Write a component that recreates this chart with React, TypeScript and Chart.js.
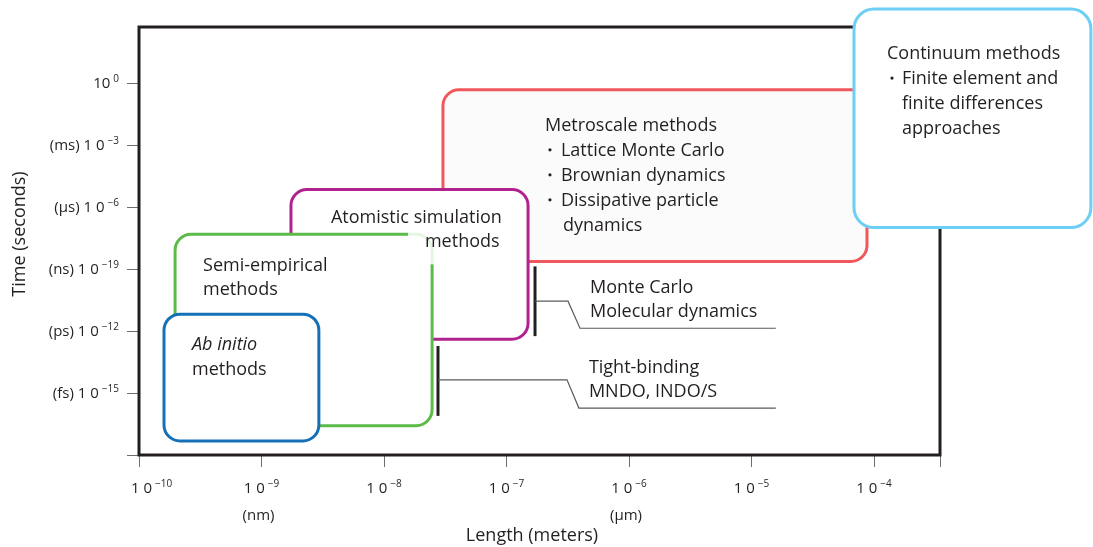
import React, { useEffect, useRef } from "react";
import { Chart, registerables } from "chart.js";

Chart.register(...registerables);

// ---- Axis ticks ----
const X_TICK_VALUES = [1e-10, 1e-9, 1e-8, 1e-7, 1e-6, 1e-5, 1e-4];
const X_TICK_SUP = ["−10", "−9", "−8", "−7", "−6", "−5", "−4"];
const X_TICK_UNITS = ["", "(nm)", "", "", "(μm)", "", ""];
const Y_TICK_VALUES = [1, 1e-3, 1e-6, 1e-9, 1e-12, 1e-15];
const Y_TICK_BASE = ["10", "(ms) 1 0", "(μs) 1 0", "(ns) 1 0", "(ps) 1 0", "(fs) 1 0"];
const Y_TICK_SUP = ["0", "−3", "−6", "−19", "−12", "−15"];
const X_MIN = 1e-10;
const X_MAX = 3.46e-4;
const Y_MIN = 1e-18;
const Y_MAX = 501;

// ---- Method regions (length in m, time in s) ----
const BOX_NAMES = ["Metroscale", "Atomistic", "Semi-empirical", "Ab initio", "Continuum"];
const BOX_X_MIN = [3.03e-8, 1.74e-9, 1.97e-10, 1.6e-10, 6.87e-5];
const BOX_X_MAX = [8.77e-5, 1.5e-7, 2.47e-8, 2.94e-9, 5.9e-3];
const BOX_T_MIN = [2.3e-9, 4.0e-13, 2.6e-17, 4.8e-18, 1.0e-7];
const BOX_T_MAX = [0.46, 6.9e-6, 4.7e-8, 6.5e-12, 3700];
const BOX_COLORS = ["#f0585c", "#b0238f", "#5cbb48", "#1670b8", "#6dcff6"];
const BOX_FILLS = ["#fbfbfb", "#ffffff", "#ffffff", "#ffffff", "#ffffff"];

// ---- Bracket markers (Monte Carlo/MD, Tight-binding) ----
const BAR_X = [1.71e-7, 2.76e-8];
const BAR_T_TOP = [1.32e-9, 1.86e-13];
const BAR_T_BOTTOM = [5.6e-13, 7.8e-17];
const LINK_T = [2.75e-11, 4.3e-15];
const LINK_BEND_X = [3.18e-7, 3.12e-7];
const LINK_END_T = [1.35e-12, 1.86e-16];
const LINK_DIAG_X = [3.98e-7, 3.9e-7];
const LINK_END_X = [1.58e-5, 1.58e-5];
const LINK_LABELS = [
  ["Monte Carlo", "Molecular dynamics"],
  ["Tight-binding", "MNDO, INDO/S"],
];

const FONT = '"Open Sans", "Noto Sans", sans-serif';
const TEXT = "#231f20";

function rr(ctx: CanvasRenderingContext2D, x1: number, y1: number, x2: number, y2: number, r: number) {
  ctx.beginPath();
  ctx.moveTo(x1 + r, y1);
  ctx.lineTo(x2 - r, y1);
  ctx.arcTo(x2, y1, x2, y1 + r, r);
  ctx.lineTo(x2, y2 - r);
  ctx.arcTo(x2, y2, x2 - r, y2, r);
  ctx.lineTo(x1 + r, y2);
  ctx.arcTo(x1, y2, x1, y2 - r, r);
  ctx.lineTo(x1, y1 + r);
  ctx.arcTo(x1, y1, x1 + r, y1, r);
  ctx.closePath();
}

const drawPlugin = {
  id: "multiscale",
  afterDraw(chart: any) {
    const ctx: CanvasRenderingContext2D = chart.ctx;
    const xs = chart.scales.x;
    const ys = chart.scales.y;
    const X = (v: number) => xs.getPixelForValue(v);
    const Y = (v: number) => ys.getPixelForValue(v);
    const L = X(X_MIN), R = X(X_MAX), T = Y(Y_MAX), B = Y(Y_MIN);
    ctx.save();
    ctx.textBaseline = "alphabetic";

    // ticks
    ctx.strokeStyle = "#6d6e71";
    ctx.lineWidth = 1;
    [...Y_TICK_VALUES, Y_MIN].forEach((v) => {
      const y = Math.round(Y(v)) + 0.5;
      ctx.beginPath(); ctx.moveTo(L - 12, y); ctx.lineTo(L, y); ctx.stroke();
    });
    [...X_TICK_VALUES, X_MAX].forEach((v) => {
      const x = Math.round(X(v)) + 0.5;
      ctx.beginPath(); ctx.moveTo(x, B); ctx.lineTo(x, B + 12); ctx.stroke();
    });

    // frame
    ctx.strokeStyle = TEXT;
    ctx.lineWidth = 3;
    ctx.beginPath();
    ctx.moveTo(R, T); ctx.lineTo(L, T); ctx.lineTo(L, B); ctx.lineTo(R, B); ctx.closePath();
    ctx.stroke();

    // y tick labels
    ctx.fillStyle = TEXT;
    Y_TICK_VALUES.forEach((v, i) => {
      ctx.font = `15px ${FONT}`;
      const wMain = ctx.measureText(Y_TICK_BASE[i]).width;
      ctx.font = `10px ${FONT}`;
      const wSup = ctx.measureText(Y_TICK_SUP[i]).width;
      const end = L - 20;
      const y = Y(v) + 5;
      const start = end - wSup - 3 - wMain;
      ctx.font = `15px ${FONT}`;
      ctx.textAlign = "left";
      ctx.fillText(Y_TICK_BASE[i], start, y);
      ctx.font = `10px ${FONT}`;
      ctx.fillText(Y_TICK_SUP[i], start + wMain + 3, y - 6);
    });

    // x tick labels
    X_TICK_VALUES.forEach((v, i) => {
      ctx.font = `15px ${FONT}`;
      const wMain = ctx.measureText("1 0").width;
      ctx.font = `10px ${FONT}`;
      const wSup = ctx.measureText(X_TICK_SUP[i]).width;
      const total = wMain + 3 + wSup;
      let start = X(v) - total / 2;
      if (i === 0) start = X(v) - 8;
      const y = B + 38;
      ctx.textAlign = "left";
      ctx.font = `15px ${FONT}`;
      ctx.fillText("1 0", start, y);
      ctx.font = `10px ${FONT}`;
      ctx.fillText(X_TICK_SUP[i], start + wMain + 3, y - 6);
      if (X_TICK_UNITS[i]) {
        ctx.font = `15px ${FONT}`;
        ctx.textAlign = "center";
        ctx.fillText(X_TICK_UNITS[i], X(v) - 3, B + 65);
      }
    });

    // axis titles
    ctx.font = `18px ${FONT}`;
    ctx.textAlign = "center";
    ctx.fillText("Length (meters)", 532, B + 86);
    ctx.save();
    ctx.translate(25, 234);
    ctx.rotate(-Math.PI / 2);
    ctx.fillText("Time (seconds)", 0, 0);
    ctx.restore();

    const box = (i: number, r: number) => {
      const x1 = X(BOX_X_MIN[i]), x2 = X(BOX_X_MAX[i]);
      const y1 = Y(BOX_T_MAX[i]), y2 = Y(BOX_T_MIN[i]);
      rr(ctx, x1, y1, x2, y2, r);
      ctx.fillStyle = BOX_FILLS[i];
      ctx.fill();
      ctx.strokeStyle = BOX_COLORS[i];
      ctx.lineWidth = 3;
      ctx.stroke();
      return { x1, y1, x2, y2 };
    };
    const txt = (s: string, x: number, y: number, italic = false) => {
      ctx.font = `${italic ? "italic " : ""}18px ${FONT}`;
      ctx.fillStyle = TEXT;
      ctx.textAlign = "left";
      ctx.fillText(s, x, y);
    };
    const bullet = (x: number, y: number) => {
      ctx.beginPath();
      ctx.arc(x, y - 6, 1.6, 0, Math.PI * 2);
      ctx.fillStyle = TEXT;
      ctx.fill();
    };

    // Metroscale
    const m = box(0, 16);
    txt("Metroscale methods", m.x1 + 102, m.y1 + 41);
    ["Lattice Monte Carlo", "Brownian dynamics", "Dissipative particle"].forEach((s, k) => {
      bullet(m.x1 + 107, m.y1 + 66 + 25 * k);
      txt(s, m.x1 + 118, m.y1 + 66 + 25 * k);
    });
    txt("dynamics", m.x1 + 120, m.y1 + 141);

    // Atomistic
    const a = box(1, 16);
    txt("Atomistic simulation", a.x1 + 40, a.y1 + 33);

    // Semi-empirical
    const s = box(2, 16);
    ctx.fillStyle = "rgba(255,255,255,0.85)";
    ctx.fillRect(s.x2 - 24, s.y1 - 3, 30, 33);
    txt("methods", a.x1 + 134, a.y1 + 57);
    txt("Semi-empirical", s.x1 + 28, s.y1 + 37);
    txt("methods", s.x1 + 28, s.y1 + 61);

    // Ab initio
    const b = box(3, 16);
    txt("Ab initio", b.x1 + 28, b.y1 + 36, true);
    txt("methods", b.x1 + 28, b.y1 + 61);

    // brackets
    BAR_X.forEach((bx, i) => {
      const x = X(bx);
      ctx.strokeStyle = TEXT;
      ctx.lineWidth = 3;
      ctx.beginPath(); ctx.moveTo(x, Y(BAR_T_TOP[i])); ctx.lineTo(x, Y(BAR_T_BOTTOM[i])); ctx.stroke();
      ctx.strokeStyle = "#58595b";
      ctx.lineWidth = 1.2;
      ctx.beginPath();
      ctx.moveTo(x, Y(LINK_T[i]));
      ctx.lineTo(X(LINK_BEND_X[i]), Y(LINK_T[i]));
      ctx.lineTo(X(LINK_DIAG_X[i]), Y(LINK_END_T[i]));
      ctx.lineTo(X(LINK_END_X[i]), Y(LINK_END_T[i]));
      ctx.stroke();
      const lx = X(LINK_DIAG_X[i]) + 10;
      const ly = Y(LINK_END_T[i]);
      txt(LINK_LABELS[i][0], lx, ly - 35);
      txt(LINK_LABELS[i][1], lx, ly - 11);
    });

    // Continuum
    const c = box(4, 20);
    txt("Continuum methods", c.x1 + 33, c.y1 + 50);
    bullet(c.x1 + 38, c.y1 + 75);
    txt("Finite element and", c.x1 + 48, c.y1 + 75);
    txt("finite differences", c.x1 + 48, c.y1 + 100);
    txt("approaches", c.x1 + 48, c.y1 + 125);

    ctx.restore();
  },
};

export default function App() {
  const ref = useRef<HTMLCanvasElement>(null);
  useEffect(() => {
    if (!ref.current) return;
    const chart = new Chart(ref.current, {
      type: "scatter",
      data: { datasets: [{ data: [], showLine: false }] },
      options: {
        responsive: false,
        animation: false,
        events: [],
        layout: { padding: { left: 139, right: 153, top: 27, bottom: 92 } },
        plugins: { legend: { display: false }, tooltip: { enabled: false } },
        scales: {
          x: { type: "logarithmic", min: X_MIN, max: X_MAX, display: false },
          y: { type: "logarithmic", min: Y_MIN, max: Y_MAX, display: false },
        },
      },
      plugins: [drawPlugin],
    });
    return () => chart.destroy();
  }, []);
  return (
    <div style={{ position: "absolute", left: 0, top: 0, width: 1093, height: 547, background: "#fff" }}>
      <canvas ref={ref} width={1093} height={547} style={{ width: 1093, height: 547 }} />
    </div>
  );
}
